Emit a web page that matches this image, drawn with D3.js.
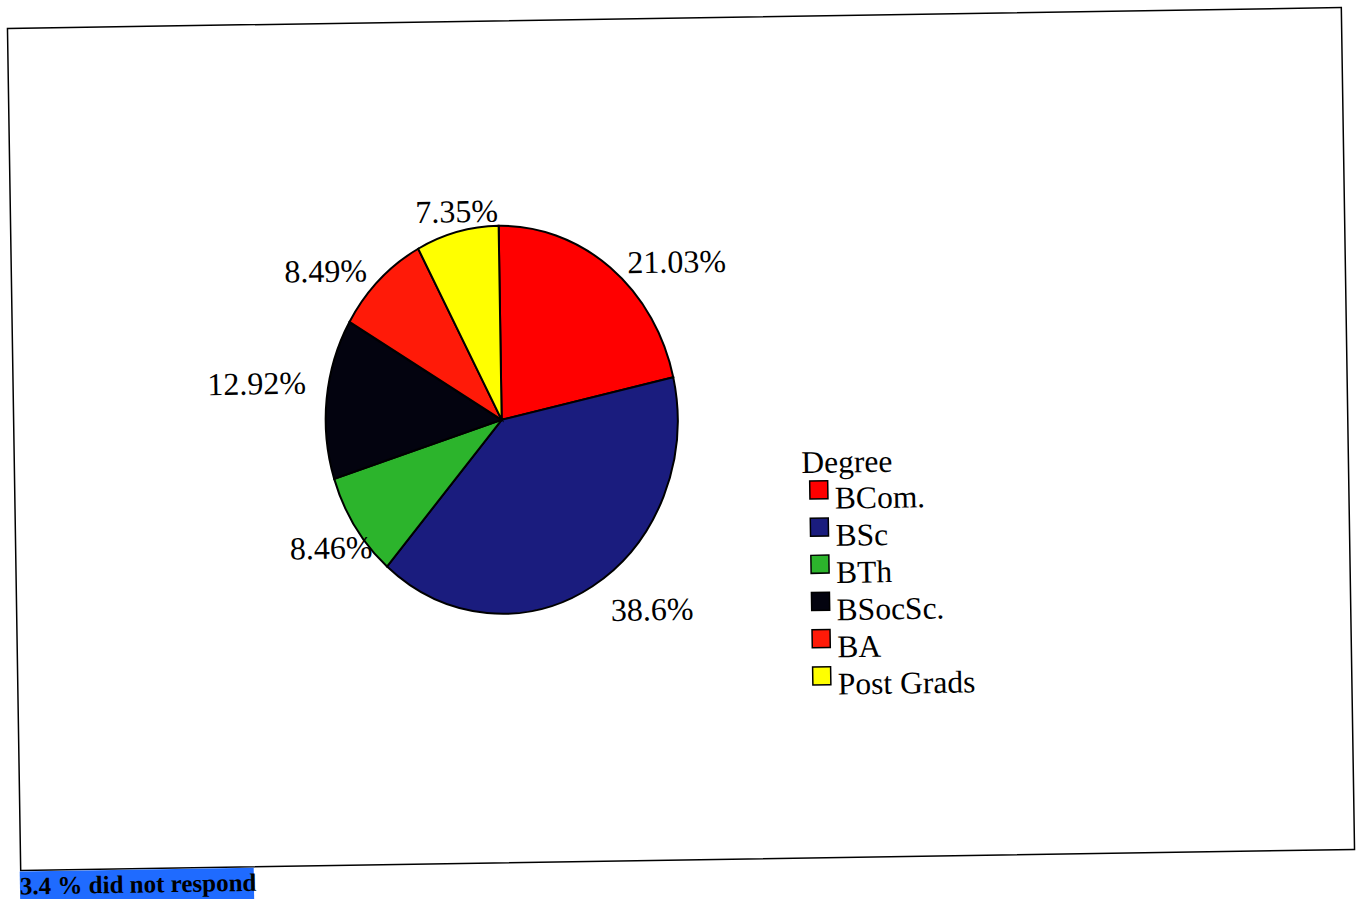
<!DOCTYPE html>
<html>
<head>
<meta charset="utf-8">
<script src="https://d3js.org/d3.v7.min.js"></script>
<title>Degree</title>
<style>
  body { margin: 0; background: #fff; }
  text { font-family: "Liberation Serif", "Times New Roman", serif; }
</style>
</head>
<body>
<div id="chart"></div>
<script>
// data
var degrees = ["BCom.", "BSc", "BTh", "BSocSc.", "BA", "Post Grads"];
var shares = [21.03, 38.6, 8.46, 12.92, 8.49, 7.35];
var shareLabels = ["21.03%", "38.6%", "8.46%", "12.92%", "8.49%", "7.35%"];
var colours = ["#ff0000", "#1a1c7e", "#2cb42c", "#03030f", "#ff1a08", "#ffff00"];
var note = "3.4 % did not respond";

// small hand nudges so the labels sit where the original put them
var labelNudge = [[6, 10], [9, 7], [32, 10], [-3, -14], [0, 4], [4, -2]];

var width = 1356, height = 899;

var svg = d3.select("#chart").append("svg")
    .attr("width", width)
    .attr("height", height);

// the scan is tilted a little, so the whole page is turned
var page = svg.append("g")
    .attr("transform", "rotate(-0.9, 681, 439)");

page.append("rect")
    .attr("x", 14).attr("y", 18)
    .attr("width", 1334).attr("height", 842)
    .attr("fill", "white")
    .attr("stroke", "black")
    .attr("stroke-width", 1.5);

var cx = 502, cy = 417, rx = 176, ry = 194;

var pie = d3.pie().sort(null).value(function(d) { return d; });
var slices = pie(shares);

var arc = d3.arc().innerRadius(0).outerRadius(rx);

// the scan squashed the pie into an ellipse
page.append("g")
    .attr("transform", "translate(" + cx + "," + cy + ") scale(1," + (ry / rx) + ")")
  .selectAll("path")
  .data(slices)
  .enter().append("path")
    .attr("d", arc)
    .attr("fill", function(d, i) { return colours[i]; })
    .attr("stroke", "black")
    .attr("stroke-width", 2)
    .attr("vector-effect", "non-scaling-stroke");

var labelR = 1.1;
page.append("g")
  .selectAll("text")
  .data(slices)
  .enter().append("text")
    .attr("x", function(d, i) {
      var a = (d.startAngle + d.endAngle) / 2;
      return cx + Math.sin(a) * rx * labelR + labelNudge[i][0];
    })
    .attr("y", function(d, i) {
      var a = (d.startAngle + d.endAngle) / 2;
      return cy - Math.cos(a) * ry * labelR + labelNudge[i][1];
    })
    .attr("dy", "0.35em")
    .attr("text-anchor", function(d) {
      var s = Math.sin((d.startAngle + d.endAngle) / 2);
      return s > 0.3 ? "start" : (s < -0.3 ? "end" : "middle");
    })
    .style("font-size", "32px")
    .text(function(d, i) { return shareLabels[i]; });

// legend
var legend = page.append("g").attr("transform", "translate(801,475)");
legend.append("text")
    .attr("x", 0).attr("y", 0)
    .style("font-size", "31.5px")
    .text("Degree");

var rows = legend.selectAll("g.row")
  .data(degrees)
  .enter().append("g")
    .attr("class", "row")
    .attr("transform", function(d, i) { return "translate(0," + (36 + i * 37.2) + ")"; });

rows.append("rect")
    .attr("x", 8).attr("y", -28)
    .attr("width", 18).attr("height", 18)
    .attr("fill", function(d, i) { return colours[i]; })
    .attr("stroke", "black")
    .attr("stroke-width", 1.5);

rows.append("text")
    .attr("x", 33).attr("y", 0)
    .style("font-size", "31.5px")
    .text(function(d) { return d; });

// note under the frame, highlighted in blue
var noteG = page.append("g").attr("transform", "translate(13,861)");
noteG.append("rect")
    .attr("x", 0).attr("y", 0)
    .attr("width", 234).attr("height", 40)
    .attr("fill", "#1f6bff");
noteG.append("text")
    .attr("x", 0).attr("y", 23)
    .style("font-size", "25px")
    .style("font-weight", "bold")
    .text(note);
</script>
</body>
</html>
